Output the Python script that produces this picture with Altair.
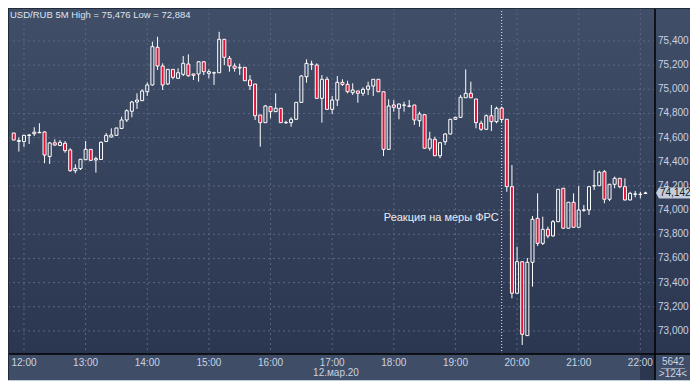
import altair as alt
import numpy as np
import pandas as pd

# ---- data (USD/RUB, 5-minute candles, 12.03.2020) ----
open_ = [74.638, 74.568, 74.568, 74.618, 74.632, 74.640, 74.647, 74.444, 74.557, 74.535,
         74.553, 74.498, 74.326, 74.343, 74.417, 74.503, 74.415, 74.419, 74.568, 74.605,
         74.619, 74.676, 74.746, 74.818, 74.895, 74.906, 74.980, 75.036, 75.348, 75.193,
         75.044, 75.165, 75.091, 75.124, 75.209, 75.127, 75.127, 75.228, 75.132, 75.135,
         75.137, 75.414, 75.256, 75.193, 75.176, 75.182, 75.077, 75.044, 74.787, 74.724,
         74.856, 74.815, 74.843, 74.723, 74.724, 74.752, 74.892, 75.104, 75.205, 75.201,
         74.925, 75.083, 74.834, 74.911, 75.058, 75.041, 74.972, 74.986, 74.967, 75.000,
         75.027, 75.083, 74.980, 74.503, 74.870, 74.843, 74.868, 74.859, 74.870, 74.740,
         74.790, 74.512, 74.586, 74.450, 74.566, 74.630, 74.752, 74.768, 74.930, 74.967,
         74.920, 74.719, 74.669, 74.781, 74.732, 74.845, 74.752, 74.194, 73.312, 73.573,
         72.961, 73.568, 73.932, 73.725, 73.841, 73.786, 73.904, 74.181, 73.850, 74.065,
         73.858, 73.998, 74.001, 74.200, 74.202, 74.318, 74.090, 74.214, 74.263, 74.194,
         74.084, 74.131, 74.129, 74.138]
high = [74.640, 74.601, 74.622, 74.630, 74.686, 74.719, 74.651, 74.564, 74.586, 74.580,
        74.572, 74.512, 74.379, 74.423, 74.572, 74.506, 74.442, 74.568, 74.638, 74.677,
        74.680, 74.773, 74.834, 74.903, 74.967, 75.000, 75.058, 75.394, 75.435, 75.215,
        75.168, 75.168, 75.174, 75.276, 75.290, 75.127, 75.234, 75.234, 75.165, 75.146,
        75.476, 75.416, 75.276, 75.215, 75.213, 75.184, 75.118, 75.044, 74.787, 74.870,
        74.862, 74.967, 74.845, 74.740, 74.768, 74.895, 75.118, 75.248, 75.237, 75.215,
        75.118, 75.104, 74.945, 75.110, 75.083, 75.071, 75.050, 74.986, 75.016, 75.063,
        75.085, 75.085, 74.980, 74.917, 74.911, 74.882, 74.897, 74.911, 74.870, 74.815,
        74.791, 74.649, 74.608, 74.564, 74.638, 74.754, 74.773, 74.953, 75.165, 75.063,
        74.920, 74.740, 74.793, 74.870, 74.856, 74.856, 74.754, 74.373, 73.697, 73.575,
        73.604, 73.951, 74.139, 73.946, 73.863, 73.918, 74.175, 74.183, 74.067, 74.139,
        74.200, 74.042, 74.196, 74.332, 74.326, 74.332, 74.216, 74.277, 74.266, 74.263,
        74.152, 74.158, 74.152, 74.152]
low = [74.580, 74.485, 74.522, 74.547, 74.614, 74.638, 74.388, 74.382, 74.531, 74.531,
       74.475, 74.318, 74.305, 74.332, 74.415, 74.407, 74.310, 74.415, 74.564, 74.601,
       74.618, 74.671, 74.729, 74.768, 74.837, 74.903, 74.945, 75.031, 75.160, 74.994,
       75.036, 75.083, 75.089, 75.110, 75.104, 75.077, 75.063, 75.118, 75.091, 75.036,
       75.135, 75.201, 75.146, 75.146, 75.118, 75.069, 74.994, 74.746, 74.525, 74.721,
       74.760, 74.812, 74.721, 74.713, 74.690, 74.750, 74.891, 75.055, 75.160, 74.924,
       74.724, 74.833, 74.796, 74.862, 75.027, 74.967, 74.953, 74.889, 74.945, 74.953,
       74.945, 74.978, 74.448, 74.498, 74.815, 74.752, 74.815, 74.851, 74.705, 74.690,
       74.510, 74.492, 74.448, 74.429, 74.539, 74.626, 74.746, 74.762, 74.928, 74.928,
       74.677, 74.657, 74.663, 74.655, 74.719, 74.729, 74.152, 73.270, 73.310, 72.884,
       72.958, 73.366, 73.703, 73.711, 73.767, 73.780, 73.902, 73.848, 73.848, 73.856,
       73.856, 73.987, 73.960, 74.167, 74.200, 74.057, 74.075, 74.181, 74.181, 74.080,
       74.081, 74.106, 74.098, 74.134]
close = [74.580, 74.576, 74.619, 74.622, 74.645, 74.644, 74.456, 74.556, 74.539, 74.561,
         74.492, 74.326, 74.346, 74.421, 74.503, 74.412, 74.426, 74.562, 74.619, 74.622,
         74.680, 74.746, 74.823, 74.895, 74.911, 74.986, 75.036, 75.353, 75.193, 75.036,
         75.165, 75.099, 75.137, 75.215, 75.112, 75.116, 75.228, 75.146, 75.146, 75.137,
         75.414, 75.265, 75.193, 75.174, 75.182, 75.071, 75.030, 74.781, 74.724, 74.862,
         74.815, 74.843, 74.724, 74.726, 74.752, 74.892, 75.110, 75.215, 75.209, 74.925,
         75.083, 74.834, 74.911, 75.058, 75.041, 74.980, 74.994, 74.967, 75.000, 75.027,
         75.083, 74.980, 74.503, 74.862, 74.851, 74.878, 74.870, 74.862, 74.746, 74.796,
         74.512, 74.589, 74.450, 74.558, 74.630, 74.752, 74.768, 74.934, 74.967, 74.930,
         74.724, 74.669, 74.781, 74.732, 74.843, 74.750, 74.194, 73.312, 73.573, 72.972,
         73.568, 73.924, 73.725, 73.841, 73.786, 73.904, 74.172, 73.850, 74.065, 73.858,
         74.001, 74.002, 74.194, 74.202, 74.313, 74.090, 74.214, 74.263, 74.194, 74.084,
         74.139, 74.134, 74.131, 74.142]

start_minute = 11 * 60 + 50          # first candle 11:50
bar_minutes = 5
minutes = [start_minute + bar_minutes * i for i in range(len(open_))]

price_ticks = [73.0, 73.2, 73.4, 73.6, 73.8, 74.0, 74.2, 74.4, 74.6, 74.8, 75.0, 75.2, 75.4]
hour_ticks = [720, 780, 840, 900, 960, 1020, 1080, 1140, 1200, 1260, 1320]
event_minute = 19 * 60 + 45          # "Реакция на меры ФРС"
event_label = "Реакция на меры ФРС"
header = "USD/RUB 5M High = 75,476 Low = 72,884"
date_label = "12.мар.20"
last_price = close[-1]

df = pd.DataFrame({"m": minutes, "o": open_, "h": high, "l": low, "c": close})
df["top"] = df[["o", "c"]].max(axis=1)
df["bot"] = df[["o", "c"]].min(axis=1)
df["dir"] = np.where(df["c"] < df["o"], "down", "up")

# ---- layout ----
W, H = 647, 346
TOTAL_W, TOTAL_H = 682, 373
BAND = 26
FONT = "Liberation Sans"
LABEL_C = "#c9d3e3"

xs = alt.Scale(domain=[709.3, 1329.4], nice=False, zero=False)
ys = alt.Scale(domain=[72.809, 75.673], nice=False, zero=False)

one = pd.DataFrame({"a": [0]})

grad = alt.Gradient(
    gradient="linear",
    stops=[alt.GradientStop(color="#404e68", offset=0),
           alt.GradientStop(color="#2b3650", offset=1)],
    x1=0, x2=0, y1=0, y2=1,
)

bg = alt.Chart(one).mark_rect(color=grad).encode(
    x=alt.value(0), x2=alt.value(TOTAL_W), y=alt.value(0), y2=alt.value(H))
band = alt.Chart(one).mark_rect(color="#3f4d66").encode(
    x=alt.value(0), x2=alt.value(TOTAL_W), y=alt.value(H), y2=alt.value(H + BAND))
thumb = alt.Chart(one).mark_rect(color="#27324a", opacity=0.8).encode(
    x=alt.value(W - 15), x2=alt.value(W), y=alt.value(H + 1), y2=alt.value(H + BAND))

hgrid = alt.Chart(pd.DataFrame({"v": price_ticks})).mark_rule(
    color="#5a6782", strokeDash=[2, 3], strokeWidth=1).encode(
    y=alt.Y("v:Q", scale=ys, axis=None), x=alt.value(0), x2=alt.value(W))
vgrid = alt.Chart(pd.DataFrame({"t": hour_ticks})).mark_rule(
    color="#5a6782", strokeDash=[2, 3], strokeWidth=1).encode(
    x=alt.X("t:Q", scale=xs, axis=None), y=alt.value(0), y2=alt.value(H))

event_rule = alt.Chart(pd.DataFrame({"t": [event_minute]})).mark_rule(
    color="#e6ebf2", strokeDash=[1, 2], strokeWidth=1).encode(
    x=alt.X("t:Q", scale=xs, axis=None), y=alt.value(0), y2=alt.value(H))

wick_up = alt.Chart(df).mark_rule(color="white", strokeWidth=1).encode(
    x=alt.X("m:Q", scale=xs, axis=None),
    y=alt.Y("h:Q", scale=ys, axis=None), y2="top:Q")
wick_dn = alt.Chart(df).mark_rule(color="white", strokeWidth=1).encode(
    x=alt.X("m:Q", scale=xs, axis=None),
    y=alt.Y("bot:Q", scale=ys, axis=None), y2="l:Q")
bodies = alt.Chart(df).mark_bar(width=3, stroke="white", strokeWidth=1).encode(
    x=alt.X("m:Q", scale=xs, axis=None),
    y=alt.Y("top:Q", scale=ys, axis=None), y2="bot:Q",
    fill=alt.Fill("dir:N", scale=alt.Scale(domain=["up", "down"],
                                           range=["transparent", "#e01438"]),
                  legend=None))

event_text = alt.Chart(pd.DataFrame({"t": [event_minute]})).mark_text(
    align="right", baseline="middle", dx=-3, font=FONT, fontSize=11, color="#e8edf4").encode(
    x=alt.X("t:Q", scale=xs, axis=None), y=alt.value(210), text=alt.value(event_label))

vline = alt.Chart(one).mark_rule(color="#000000", strokeWidth=1.5).encode(
    x=alt.value(W), y=alt.value(0), y2=alt.value(H + BAND))
hline = alt.Chart(one).mark_rule(color="#000000", strokeWidth=1.5).encode(
    x=alt.value(0), x2=alt.value(TOTAL_W), y=alt.value(H))
left_edge = alt.Chart(one).mark_rule(color="#222b3a", strokeWidth=1).encode(
    x=alt.value(0.5), y=alt.value(0), y2=alt.value(H + BAND))
top_edge = alt.Chart(one).mark_rule(color="#222b3a", strokeWidth=1).encode(
    x=alt.value(0), x2=alt.value(TOTAL_W), y=alt.value(0.5))

# axis labels (price on the right, hours along the bottom)
ylabels = alt.Chart(pd.DataFrame({"v": price_ticks})).transform_calculate(
    lab="replace(format(datum.v, '.3f'), '.', ',')").mark_text(
    align="left", baseline="middle", font=FONT, fontSize=10, color=LABEL_C).encode(
    x=alt.value(W + 3), y=alt.Y("v:Q", scale=ys, axis=None), text="lab:N")
xlabels = alt.Chart(pd.DataFrame({"t": hour_ticks})).transform_calculate(
    lab="floor(datum.t / 60) + ':00'").mark_text(
    align="center", baseline="middle", font=FONT, fontSize=10, color=LABEL_C).encode(
    x=alt.X("t:Q", scale=xs, axis=None), y=alt.value(H + 9), text="lab:N")

head = alt.Chart(one).mark_text(
    align="left", baseline="middle", font=FONT, fontSize=9.5, color="#dde4ee").encode(
    x=alt.value(2), y=alt.value(7), text=alt.value(header))
date_txt = alt.Chart(one).mark_text(
    align="center", baseline="middle", font=FONT, fontSize=10, color=LABEL_C).encode(
    x=alt.value(328), y=alt.value(365), text=alt.value(date_label))
count_txt = alt.Chart(one).mark_text(
    align="center", baseline="middle", font=FONT, fontSize=10, color=LABEL_C).encode(
    x=alt.value(665), y=alt.value(354), text=alt.value("5642"))
bars_txt = alt.Chart(one).mark_text(
    align="center", baseline="middle", font=FONT, fontSize=10, color=LABEL_C).encode(
    x=alt.value(665), y=alt.value(366), text=alt.value(">124<"))
count_line = alt.Chart(one).mark_rule(color="#8e9bb2", strokeWidth=1).encode(
    x=alt.value(653), x2=alt.value(677), y=alt.value(360.5))
tri = alt.Chart(one).mark_point(shape="triangle-up", filled=True, size=45,
                                color="#1c2433", opacity=1).encode(
    x=alt.value(344), y=alt.value(377))

tag_df = pd.DataFrame({"p": [last_price]})
tag_shape = alt.Chart(tag_df).mark_point(
    shape="M-1,0L-0.824,-0.32L1,-0.32L1,0.32L-0.824,0.32Z",
    size=1156, filled=True, color="#c4cedb", opacity=1).encode(
    x=alt.value(665), y=alt.Y("p:Q", scale=ys, axis=None))
tag_text = alt.Chart(tag_df).transform_calculate(
    lab="replace(format(datum.p, '.3f'), '.', ',')").mark_text(
    align="left", baseline="middle", font=FONT, fontSize=10, color="#0f1a2a").encode(
    x=alt.value(652), y=alt.Y("p:Q", scale=ys, axis=None), text="lab:N")

chart = alt.layer(
    bg, band, thumb, hgrid, vgrid, event_rule, wick_up, wick_dn, bodies,
    event_text, vline, hline, left_edge, top_edge, ylabels, xlabels, head, date_txt,
    count_txt, bars_txt, count_line, tri, tag_shape, tag_text,
).properties(
    width=W, height=H,
    padding={"left": 0, "top": 0, "right": TOTAL_W - W, "bottom": TOTAL_H - H},
    autosize=alt.AutoSizeParams(type="none"),
    background="#c0cbd9",
).configure_view(stroke=None)

chart.save("out.html", embed_options={"renderer": "svg", "actions": False})
